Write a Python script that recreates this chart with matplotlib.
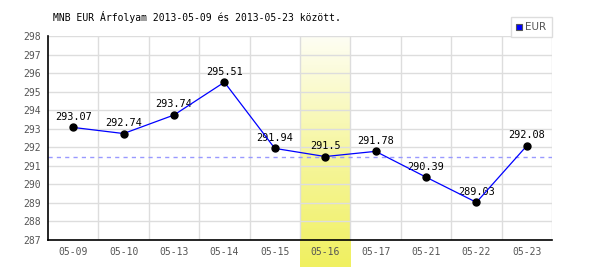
import numpy as np
import matplotlib.pyplot as plt
from matplotlib.colors import LinearSegmentedColormap

dates = ["05-09", "05-10", "05-13", "05-14", "05-15", "05-16", "05-17", "05-21", "05-22", "05-23"]
eur = [293.07, 292.74, 293.74, 295.51, 291.94, 291.5, 291.78, 290.39, 289.03, 292.08]
highlight = "05-16"
ref_level = 291.5

plt.rcParams['font.family'] = ['DejaVu Sans Mono']

fig = plt.figure(figsize=(6, 2.7), dpi=100)
ax = fig.add_axes([48 / 600, 30 / 270, 504 / 600, 204 / 270])

x = np.arange(len(dates))

# yellow gradient band behind the highlighted day
hi = dates.index(highlight)
cmap = LinearSegmentedColormap.from_list("yel", ["#fefef4", "#f6f6a0", "#f0f060"])
grad = np.linspace(0, 1, 256).reshape(-1, 1)
ax.imshow(grad, cmap=cmap, aspect="auto", origin="upper",
          extent=(hi - 0.5, hi + 0.5, 287 - 0.132 * 11, 298),
          zorder=0, clip_on=False)
ax.set_xlim(-0.5, len(dates) - 0.5)
ax.set_ylim(287, 298)

# grid
for v in range(288, 299):
    ax.axhline(v, color="#dddddd", lw=1, zorder=1)
for b in np.arange(0.5, len(dates), 1):
    ax.axvline(b, color="#dddddd", lw=1, zorder=1)

ax.axhline(ref_level, color="#9999ff", lw=1, ls=(0, (3, 3)), zorder=2)

for xi, v in zip(x, eur):
    ax.annotate(f"{v:g}", (xi, v), xytext=(0, 4), textcoords="offset points",
                ha="center", va="bottom", fontsize=7.4, color="black", zorder=3)
ax.plot(x, eur, color="#0000ff", lw=0.9, zorder=4)
ax.plot(x, eur, "o", color="black", ms=5, zorder=5, label="EUR")

ax.set_xticks(x)
ax.set_xticklabels(dates)
ax.set_yticks(range(287, 299))
ax.tick_params(length=0, labelsize=7, colors="#555555", pad=5)
for s in ["top", "right"]:
    ax.spines[s].set_visible(False)
for s in ["left", "bottom"]:
    ax.spines[s].set_color("black")
    ax.spines[s].set_linewidth(1.2)

fig.text(53 / 600, 1 - 17 / 270, "MNB EUR Árfolyam 2013-05-09 és 2013-05-23 között.",
         fontsize=7.05, va="center", ha="left", color="black")

# legend box
fig.patches.append(plt.Rectangle((511 / 600, 1 - 37 / 270), 41 / 600, 20 / 270,
                                 transform=fig.transFigure, facecolor="white",
                                 edgecolor="#dddddd", lw=1, zorder=10))
fig.patches.append(plt.Rectangle((516 / 600, 1 - 30 / 270), 6 / 600, 6 / 270,
                                 transform=fig.transFigure, facecolor="#0000ff",
                                 edgecolor="#555555", lw=0.8, zorder=11))
fig.text(525 / 600, 1 - 27 / 270, "EUR", fontsize=7.5, color="#555555",
         va="center", ha="left", zorder=12, family="DejaVu Sans")

fig.savefig("out.png", dpi=100)
